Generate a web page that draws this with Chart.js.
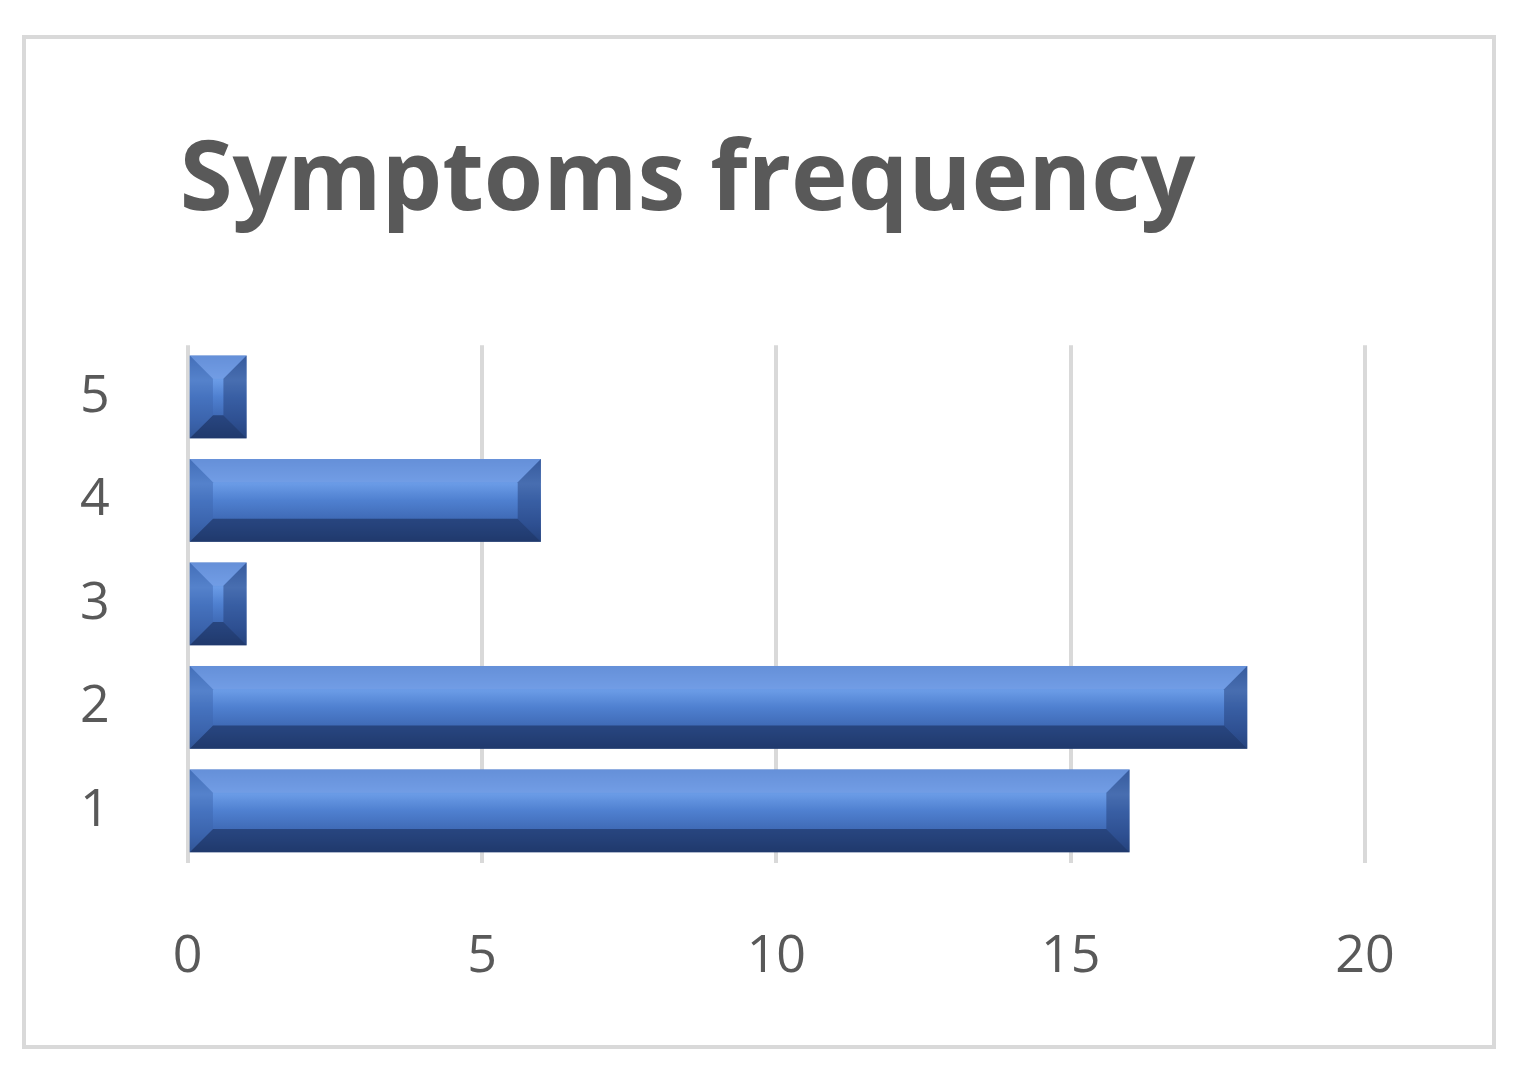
<!DOCTYPE html>
<html><head><meta charset="utf-8">
<script src="https://cdn.jsdelivr.net/npm/chart.js@4"></script>
<style>
html,body{margin:0;padding:0;background:#fff;}
#wrap{position:relative;width:1515px;height:1065px;}
#frame{position:absolute;left:22px;top:35px;width:1466px;height:1006px;border:4px solid #d9d9d9;box-sizing:content-box;}
canvas{position:absolute;left:0;top:0;}
</style></head><body>
<div id="wrap"><div id="frame"></div><canvas id="c" width="1515" height="1065"></canvas></div>
<script>
const categories = ['1','2','3','4','5'];
const values = [16, 18, 1, 6, 1];
const xTicks = [0,5,10,15,20];

const bevel = {
  id:'bevel',
  afterDatasetDraw(chart){
    const ctx = chart.ctx;
    chart.getDatasetMeta(0).data.forEach(el=>{
      const x0 = el.base, x1 = el.x, yt = el.y - el.height/2, yb = el.y + el.height/2;
      const h = yb-yt, b = Math.min(h*0.28, (x1-x0)/2);
      const g = ctx.createLinearGradient(0,yt,0,yb);
      g.addColorStop(0,'#4a78c4'); g.addColorStop(0.3,'#6a9be6'); g.addColorStop(0.5,'#4f80d0'); g.addColorStop(0.8,'#3a63ad'); g.addColorStop(1,'#2b4c88');
      ctx.save();
      ctx.fillStyle=g; ctx.fillRect(x0,yt,x1-x0,h);
      ctx.fillStyle='rgba(120,160,230,0.6)';
      ctx.beginPath();ctx.moveTo(x0,yt);ctx.lineTo(x1,yt);ctx.lineTo(x1-b,yt+b);ctx.lineTo(x0+b,yt+b);ctx.fill();
      ctx.fillStyle='rgba(25,45,90,0.6)';
      ctx.beginPath();ctx.moveTo(x0,yb);ctx.lineTo(x1,yb);ctx.lineTo(x1-b,yb-b);ctx.lineTo(x0+b,yb-b);ctx.fill();
      ctx.fillStyle='rgba(30,55,110,0.45)';
      ctx.beginPath();ctx.moveTo(x1,yt);ctx.lineTo(x1,yb);ctx.lineTo(x1-b,yb-b);ctx.lineTo(x1-b,yt+b);ctx.fill();
      ctx.fillStyle='rgba(60,100,170,0.45)';
      ctx.beginPath();ctx.moveTo(x0,yt);ctx.lineTo(x0,yb);ctx.lineTo(x0+b,yb-b);ctx.lineTo(x0+b,yt+b);ctx.fill();
      ctx.restore();
    });
  }
};

new Chart(document.getElementById('c'), {
  type:'bar',
  data:{labels:categories, datasets:[{data:values, backgroundColor:'rgba(0,0,0,0)', barPercentage:0.8, categoryPercentage:1}]},
  options:{
    indexAxis:'y', responsive:false, animation:false, devicePixelRatio:1,
    layout:{padding:{left:10,right:150,top:0,bottom:14}},
    plugins:{legend:{display:false},tooltip:{enabled:false},
      title:{display:true,text:'Symptoms frequency',color:'#595959',font:{family:'Open Sans',size:96,weight:'bold'},padding:{top:125,bottom:105}}},
    scales:{
      x:{min:0,max:20,afterBuildTicks(s){s.ticks=xTicks.map(v=>({value:v}));},
        grid:{color:'#d9d9d9',lineWidth:4,drawTicks:false},border:{display:false},
        ticks:{color:'#595959',padding:63,font:{family:'Open Sans',size:52}}},
      y:{reverse:true,grid:{display:false},border:{display:false},
        ticks:{color:'#595959',padding:70,font:{family:'Open Sans',size:52}}}
    }
  },
  plugins:[bevel]
});
</script></body></html>
